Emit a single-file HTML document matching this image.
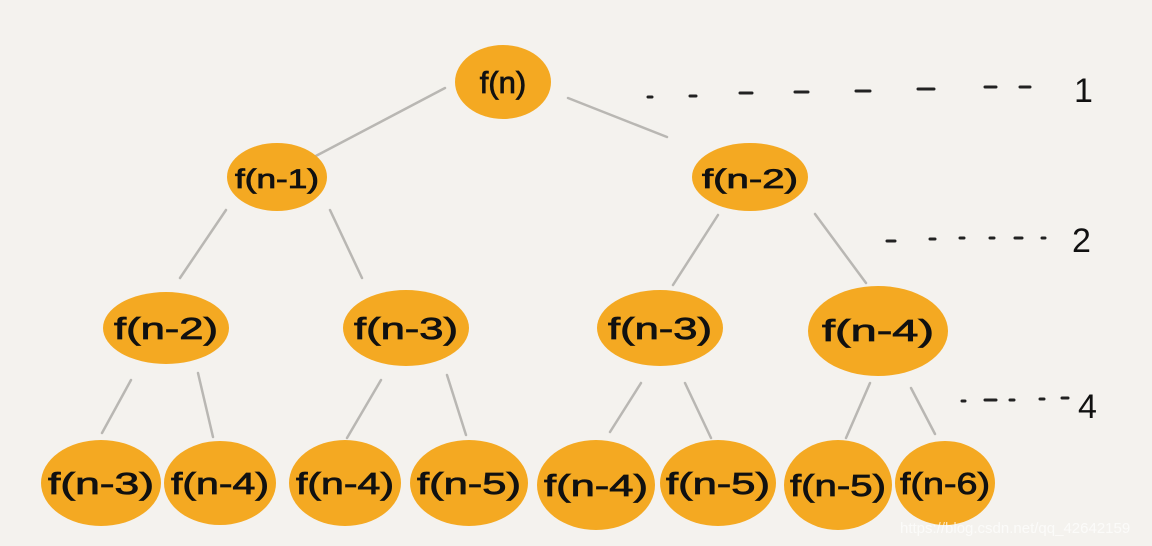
<!DOCTYPE html>
<html><head><style>
html,body{margin:0;padding:0;background:#f4f2ee;}
svg{display:block}
text{font-family:"Liberation Sans",sans-serif;fill:#111;}
</style></head><body>
<svg width="1152" height="546" viewBox="0 0 1152 546">
<rect width="1152" height="546" fill="#f4f2ee"/>
<g stroke="#b9b7b3" stroke-width="2.5" stroke-linecap="round">
<line x1="445" y1="88" x2="312" y2="158"/>
<line x1="568" y1="98" x2="667" y2="137"/>
<line x1="226" y1="210" x2="180" y2="278"/>
<line x1="330" y1="210" x2="362" y2="278"/>
<line x1="718" y1="215" x2="673" y2="285"/>
<line x1="815" y1="214" x2="866" y2="283"/>
<line x1="131" y1="380" x2="102" y2="433"/>
<line x1="198" y1="373" x2="213" y2="437"/>
<line x1="381" y1="380" x2="347" y2="438"/>
<line x1="447" y1="375" x2="466" y2="435"/>
<line x1="641" y1="383" x2="610" y2="432"/>
<line x1="685" y1="383" x2="711" y2="438"/>
<line x1="870" y1="383" x2="846" y2="438"/>
<line x1="911" y1="388" x2="935" y2="434"/>
</g>
<g fill="#f4a922">
<ellipse cx="503" cy="82" rx="48" ry="37"/>
<ellipse cx="277" cy="177" rx="50" ry="34"/>
<ellipse cx="750" cy="177" rx="58" ry="34"/>
<ellipse cx="166" cy="328" rx="63" ry="36"/>
<ellipse cx="406" cy="328" rx="63" ry="38"/>
<ellipse cx="660" cy="328" rx="63" ry="38"/>
<ellipse cx="878" cy="331" rx="70" ry="45"/>
<ellipse cx="101" cy="483" rx="60" ry="43"/>
<ellipse cx="220" cy="483" rx="56" ry="42"/>
<ellipse cx="345" cy="483" rx="56" ry="43"/>
<ellipse cx="469" cy="483" rx="59" ry="43"/>
<ellipse cx="596" cy="485" rx="59" ry="45"/>
<ellipse cx="718" cy="483" rx="58" ry="43"/>
<ellipse cx="838" cy="485" rx="54" ry="45"/>
<ellipse cx="945" cy="483" rx="50" ry="42"/>
</g>
<g font-size="31" text-anchor="middle" style="stroke:#111;stroke-width:0.8">
<text x="503" y="93">f(n)</text>
<text x="277" y="188" font-size="27" textLength="84" lengthAdjust="spacingAndGlyphs">f(n-1)</text>
<text x="750" y="188" font-size="27" textLength="96" lengthAdjust="spacingAndGlyphs">f(n-2)</text>
<text x="166" y="339" textLength="104" lengthAdjust="spacingAndGlyphs">f(n-2)</text>
<text x="406" y="339" textLength="104" lengthAdjust="spacingAndGlyphs">f(n-3)</text>
<text x="660" y="339" textLength="104" lengthAdjust="spacingAndGlyphs">f(n-3)</text>
<text x="878" y="341" textLength="112" lengthAdjust="spacingAndGlyphs">f(n-4)</text>
<text x="101" y="494" textLength="106" lengthAdjust="spacingAndGlyphs">f(n-3)</text>
<text x="220" y="494" textLength="98" lengthAdjust="spacingAndGlyphs">f(n-4)</text>
<text x="345" y="494" textLength="98" lengthAdjust="spacingAndGlyphs">f(n-4)</text>
<text x="469" y="494" textLength="104" lengthAdjust="spacingAndGlyphs">f(n-5)</text>
<text x="596" y="496" textLength="104" lengthAdjust="spacingAndGlyphs">f(n-4)</text>
<text x="718" y="494" textLength="104" lengthAdjust="spacingAndGlyphs">f(n-5)</text>
<text x="838" y="496" textLength="96" lengthAdjust="spacingAndGlyphs">f(n-5)</text>
<text x="945" y="494" textLength="90" lengthAdjust="spacingAndGlyphs">f(n-6)</text>
</g>
<g stroke="#222" stroke-width="3" stroke-linecap="round">
<line x1="648" y1="97" x2="652" y2="97"/>
<line x1="690" y1="96" x2="696" y2="96"/>
<line x1="740" y1="93" x2="752" y2="93"/>
<line x1="795" y1="92" x2="808" y2="92"/>
<line x1="856" y1="91" x2="870" y2="91"/>
<line x1="918" y1="89" x2="934" y2="89"/>
<line x1="985" y1="87" x2="996" y2="87"/>
<line x1="1020" y1="87" x2="1030" y2="87"/>
<line x1="887" y1="241" x2="895" y2="241"/>
<line x1="930" y1="239" x2="935" y2="239"/>
<line x1="960" y1="238" x2="964" y2="238"/>
<line x1="990" y1="238" x2="994" y2="238"/>
<line x1="1015" y1="238" x2="1022" y2="238"/>
<line x1="1042" y1="238" x2="1045" y2="238"/>
<line x1="962" y1="401" x2="965" y2="401"/>
<line x1="985" y1="400" x2="996" y2="400"/>
<line x1="1010" y1="400" x2="1014" y2="400"/>
<line x1="1040" y1="399" x2="1044" y2="399"/>
<line x1="1062" y1="398" x2="1068" y2="398"/>
</g>
<g font-size="34">
<text x="1074" y="102">1</text>
<text x="1072" y="252">2</text>
<text x="1078" y="418">4</text>
</g>
<text x="900" y="533" font-size="15" style="fill:#ffffff;opacity:0.7">https://blog.csdn.net/qq_42642159</text>
</svg>
</body></html>
